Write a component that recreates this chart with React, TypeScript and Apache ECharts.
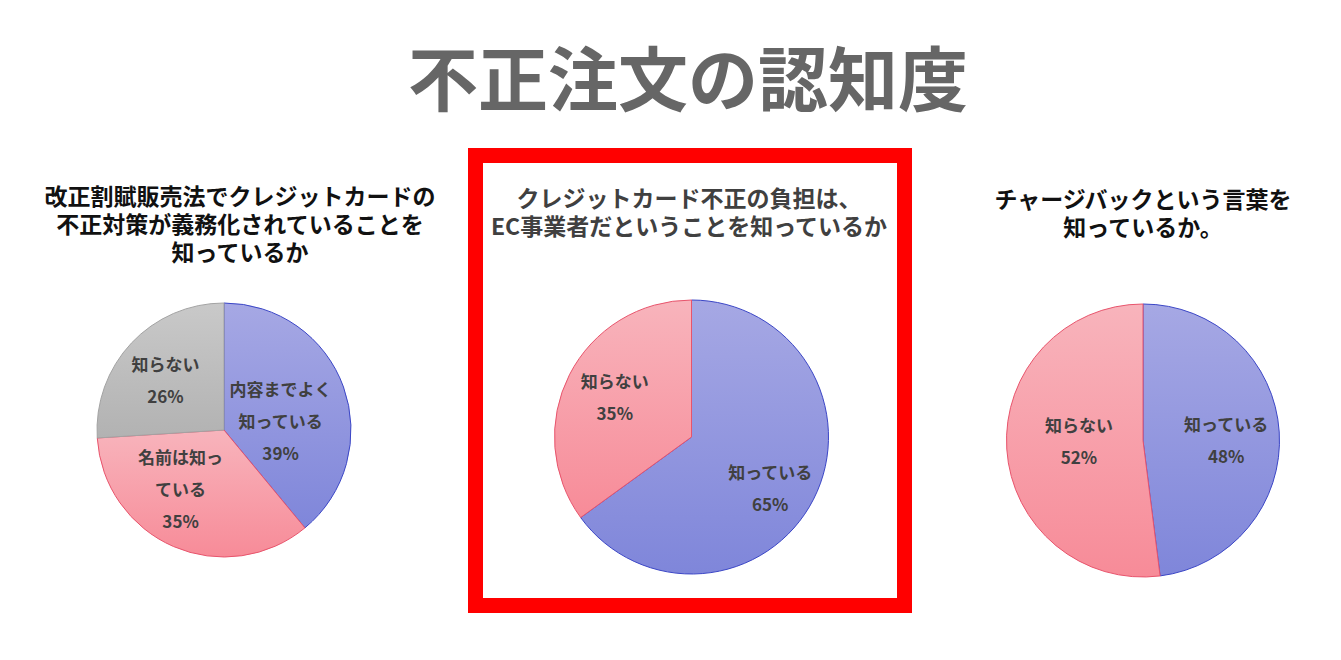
import React, { useEffect, useRef } from "react";
import * as echarts from "echarts";

// ---- data ----
const mainTitle = "不正注文の認知度";

const pie1TitleLines = ["改正割賦販売法でクレジットカードの", "不正対策が義務化されていることを", "知っているか"];
const pie1Categories = ["内容までよく知っている", "名前は知っている", "知らない"];
const pie1LabelText = ["内容までよく\n知っている", "名前は知っ\nている", "知らない"];
const pie1Values = [39, 35, 26];

const pie2TitleLines = ["クレジットカード不正の負担は、", "EC事業者だということを知っているか"];
const pie2Categories = ["知っている", "知らない"];
const pie2LabelText = ["知っている", "知らない"];
const pie2Values = [65, 35];

const pie3TitleLines = ["チャージバックという言葉を", "知っているか。"];
const pie3Categories = ["知っている", "知らない"];
const pie3LabelText = ["知っている", "知らない"];
const pie3Values = [48, 52];

// ---- styles ----
const FONT = '"Noto Sans CJK JP", "Noto Sans", sans-serif';
const blue = { top: "#a6a8e4", bottom: "#7f86da", border: "#3b46c6" };
const pink = { top: "#f8b4bc", bottom: "#f78b98", border: "#e8546c" };
const grey = { top: "#c9c9c9", bottom: "#b2b2b2", border: "#a3a3a3" };

const grad = (c: { top: string; bottom: string }) =>
  new echarts.graphic.LinearGradient(0, 0, 0, 1, [
    { offset: 0, color: c.top },
    { offset: 1, color: c.bottom },
  ]);

// label nudges (px) relative to default inner label position, per series
const labelNudges: number[][][] = [
  [[-6, 13], [-17, -3], [-10, -5]],
  [[15, 18], [-13, -8]],
  [[12, 3], [7, -4]],
];

function buildSeries(
  seriesIdx: number,
  cats: string[],
  vals: number[],
  labels: string[],
  palette: { top: string; bottom: string; border: string }[],
  center: number[],
  radius: number
) {
  return {
    type: "pie",
    center,
    radius,
    startAngle: 90,
    clockwise: true,
    silent: true,
    avoidLabelOverlap: false,
    emphasis: { disabled: true },
    labelLine: { show: false },
    label: {
      show: true,
      position: "inside",
      color: "#404040",
      fontFamily: FONT,
      fontWeight: "bold",
      fontSize: 17,
      lineHeight: 32,
      formatter: (p: any) => `${labels[p.dataIndex]}\n${p.value}%`,
    },
    labelLayout: (p: any) => {
      const n = labelNudges[seriesIdx]?.[p.dataIndex] || [0, 0];
      return { dx: n[0], dy: n[1] };
    },
    data: cats.map((name, i) => ({
      name,
      value: vals[i],
      itemStyle: {
        color: grad(palette[i]),
        borderColor: palette[i].border,
        borderWidth: 1,
      },
    })),
  };
}

function titleLines(lines: string[], cx: number, firstY: number, step: number, fill: string) {
  return lines.map((t, i) => ({
    type: "text",
    x: cx,
    y: firstY + i * step,
    style: {
      text: t,
      fill,
      fontFamily: FONT,
      fontWeight: "bold",
      fontSize: 23,
      align: "center",
      verticalAlign: "middle",
    },
  }));
}

export default function App() {
  const ref = useRef<HTMLDivElement>(null);

  useEffect(() => {
    if (!ref.current) return;
    const chart = echarts.init(ref.current, null, { renderer: "svg" });
    chart.setOption({
      animation: false,
      backgroundColor: "#ffffff",
      textStyle: { fontFamily: FONT },
      graphic: [
        {
          type: "text",
          x: 688,
          y: 75,
          style: {
            text: mainTitle,
            fill: "#666666",
            fontFamily: FONT,
            fontWeight: "bold",
            fontSize: 70,
            align: "center",
            verticalAlign: "middle",
          },
        },
        ...titleLines(pie1TitleLines, 240, 195, 28, "#111111"),
        ...titleLines(pie2TitleLines, 689, 197, 28, "#404040"),
        ...titleLines(pie3TitleLines, 1143, 198, 28, "#111111"),
        {
          type: "rect",
          shape: { x: 475.5, y: 155.5, width: 429, height: 450 },
          style: { fill: "none", stroke: "#ff0000", lineWidth: 15 },
          z: 10,
        },
      ],
      series: [
        buildSeries(0, pie1Categories, pie1Values, pie1LabelText, [blue, pink, grey], [224, 430], 127),
        buildSeries(1, pie2Categories, pie2Values, pie2LabelText, [blue, pink], [691.5, 437], 137),
        buildSeries(2, pie3Categories, pie3Values, pie3LabelText, [blue, pink], [1143, 440.5], 136.5),
      ],
    });
    return () => chart.dispose();
  }, []);

  return (
    <div
      ref={ref}
      style={{ position: "fixed", left: 0, top: 0, width: 1341, height: 660 }}
    />
  );
}
